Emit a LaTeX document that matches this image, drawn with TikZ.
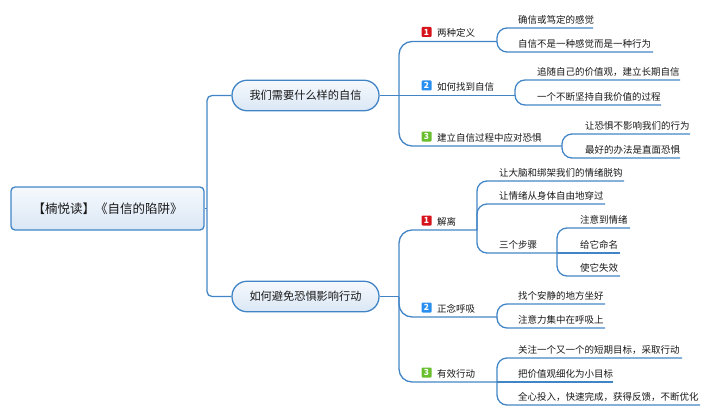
\documentclass[tikz,border=0pt]{standalone}
\usepackage{fontspec}
\setmainfont{Noto Sans CJK SC}
\definecolor{lineblue}{RGB}{66,133,198}
\definecolor{nodetop}{RGB}{246,249,253}
\definecolor{nodebot}{RGB}{218,231,245}
\definecolor{iconred}{RGB}{214,18,26}
\definecolor{iconblue}{RGB}{40,142,240}
\definecolor{icongreen}{RGB}{104,190,44}
\definecolor{txtc}{RGB}{25,25,25}
\tikzset{
  ln/.style={draw=lineblue, line width=1.3pt},
  conn/.style={ln, rounded corners=10pt},
  spine/.style={ln, rounded corners=13pt},
  txt/.style={anchor=base west, inner sep=0pt, text=txtc, font=\fontsize{9.5}{11}\selectfont},
  icon/.style={rounded corners=1pt, minimum size=10pt, inner sep=0pt, text=white, font=\fontsize{8.5}{9}\selectfont\bfseries},
  rootbox/.style={draw=lineblue, line width=1.3pt, rounded corners=4pt, top color=nodetop, bottom color=nodebot, text=txtc, font=\fontsize{12.5}{14}\selectfont, minimum width=193pt, minimum height=43pt, inner sep=0pt},
  branchbox/.style={draw=lineblue, line width=1.3pt, rounded corners=15pt, top color=nodetop, bottom color=nodebot, text=txtc, font=\fontsize{11.2}{13}\selectfont, minimum width=147pt, minimum height=30.5pt, inner sep=0pt}
}
\begin{document}
\begin{tikzpicture}[x=1pt,y=-1pt]
\useasboundingbox (0,0) rectangle (711,417);

% root and branches
\node[rootbox] (root) at (107.5,208.5) {【楠悦读】《自信的陷阱》};
\node[branchbox] (b1) at (305.5,95.5) {我们需要什么样的自信};
\node[branchbox] (b2) at (305.5,296.5) {如何避免恐惧影响行动};

\coordinate (trunk) at (207,208.5);
\draw[ln] (root.east) -- (trunk);
\draw[ln, rounded corners=5pt] (trunk) |- (b1.west);
\draw[ln, rounded corners=5pt] (trunk) |- (b2.west);

\coordinate (sp1) at (399,95.5);
\coordinate (sp2) at (399,296.5);
\draw[ln] (b1.east) -- (sp1);
\draw[ln] (b2.east) -- (sp2);

% ---------- branch 1 ----------
\coordinate (t1e) at (497,41.5);
\node[icon, fill=iconred] (t1i) at (426.5,32) {1};
\node[txt] (t1t) at (437,37) {两种定义};
\draw[spine] (sp1) |- (t1e);

\coordinate (c11e) at (593,28);
\coordinate (c12e) at (653,52);
\node[txt] (c11t) at (518,23.5) {确信或笃定的感觉};
\node[txt] (c12t) at (518,47.5) {自信不是一种感觉而是一种行为};
\draw[conn] (t1e) |- (c11e);
\draw[conn] (t1e) |- (c12e);

\coordinate (t2e) at (515,95.5);
\node[icon, fill=iconblue] (t2i) at (426.5,85.5) {2};
\node[txt] (t2t) at (437,91) {如何找到自信};
\draw[ln] (sp1) -- (t2e);

\coordinate (c21e) at (680,80);
\coordinate (c22e) at (661,105);
\node[txt] (c21t) at (537,75.5) {追随自己的价值观，建立长期自信};
\node[txt] (c22t) at (537,100.5) {一个不断坚持自我价值的过程};
\draw[conn] (t2e) |- (c21e);
\draw[conn] (t2e) |- (c22e);

\coordinate (t3e) at (562,146);
\node[icon, fill=icongreen] (t3i) at (426.5,136.5) {3};
\node[txt] (t3t) at (437,141.5) {建立自信过程中应对恐惧};
\draw[spine] (sp1) |- (t3e);

\coordinate (c31e) at (690,134);
\coordinate (c32e) at (680,158);
\node[txt] (c31t) at (585,129.5) {让恐惧不影响我们的行为};
\node[txt] (c32t) at (585,153.5) {最好的办法是直面恐惧};
\draw[conn] (t3e) |- (c31e);
\draw[conn] (t3e) |- (c32e);

% ---------- branch 2 ----------
\coordinate (t4e) at (477,230);
\node[icon, fill=iconred] (t4i) at (426.5,220.5) {1};
\node[txt] (t4t) at (437,225.5) {解离};
\draw[spine] (sp2) |- (t4e);

\coordinate (c41e) at (624,181);
\coordinate (c42e) at (605,204);
\coordinate (c43e) at (557,253);
\node[txt] (c41t) at (499,176.5) {让大脑和绑架我们的情绪脱钩};
\node[txt] (c42t) at (499,199.5) {让情绪从身体自由地穿过};
\node[txt] (c43t) at (499,248.5) {三个步骤};
\draw[conn] (t4e) |- (c41e);
\draw[conn] (t4e) |- (c42e);
\draw[conn] (t4e) |- (c43e);

\coordinate (c431e) at (630,228);
\coordinate (c432e) at (620,253);
\coordinate (c433e) at (620,276);
\node[txt] (c431t) at (580,223.5) {注意到情绪};
\node[txt] (c432t) at (580,248.5) {给它命名};
\node[txt] (c433t) at (580,271.5) {使它失效};
\draw[conn] (c43e) |- (c431e);
\draw[ln] (c43e) -- (c432e);
\draw[conn] (c43e) |- (c433e);

\coordinate (t5e) at (497,317);
\node[icon, fill=iconblue] (t5i) at (426.5,307.5) {2};
\node[txt] (t5t) at (437,312.5) {正念呼吸};
\draw[spine] (sp2) |- (t5e);

\coordinate (c51e) at (605,304);
\coordinate (c52e) at (605,328);
\node[txt] (c51t) at (518,299.5) {找个安静的地方坐好};
\node[txt] (c52t) at (518,323.5) {注意力集中在呼吸上};
\draw[conn] (t5e) |- (c51e);
\draw[conn] (t5e) |- (c52e);

\coordinate (t6e) at (497,382);
\node[icon, fill=icongreen] (t6i) at (426.5,372.5) {3};
\node[txt] (t6t) at (437,377.5) {有效行动};
\draw[spine] (sp2) |- (t6e);

\coordinate (c61e) at (682,358);
\coordinate (c62e) at (613,382);
\coordinate (c63e) at (700,405);
\node[txt] (c61t) at (518,353.5) {关注一个又一个的短期目标，采取行动};
\node[txt] (c62t) at (518,377.5) {把价值观细化为小目标};
\node[txt] (c63t) at (518,400.5) {全心投入，快速完成，获得反馈，不断优化};
\draw[conn] (t6e) |- (c61e);
\draw[ln] (t6e) -- (c62e);
\draw[conn] (t6e) |- (c63e);
\end{tikzpicture}
\end{document}
